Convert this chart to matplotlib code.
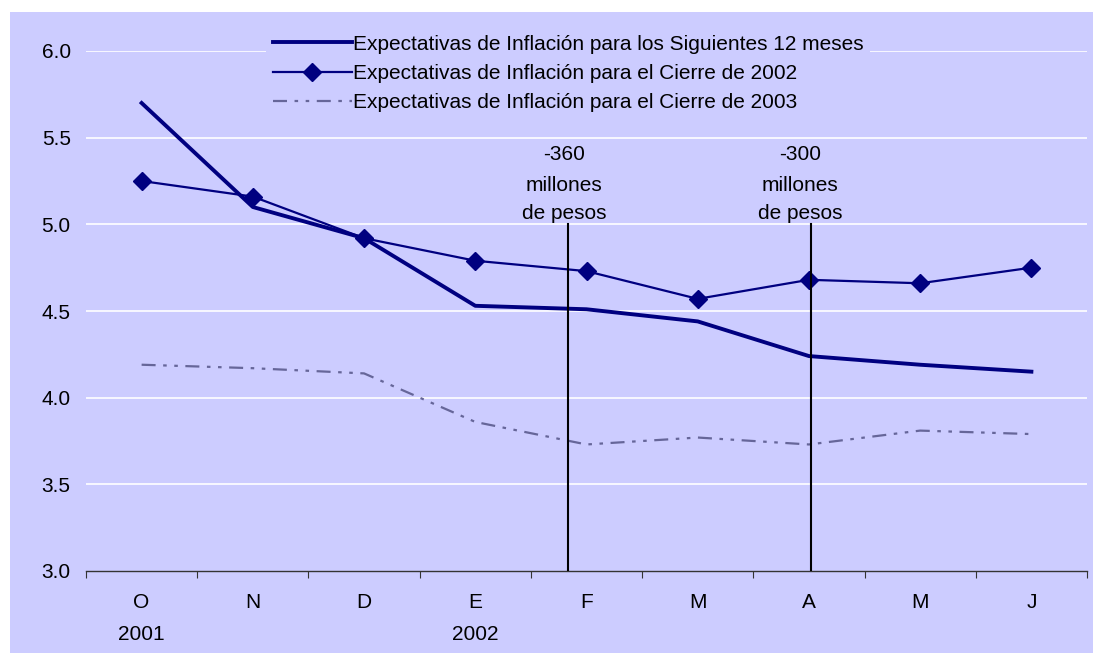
import matplotlib
matplotlib.use("Agg")
import matplotlib.pyplot as plt
from matplotlib.patches import Rectangle

months = ["O", "N", "D", "E", "F", "M", "A", "M", "J"]
years = ["2001", "", "", "2002", "", "", "", "", ""]
s12m = [5.70, 5.10, 4.92, 4.53, 4.51, 4.44, 4.24, 4.19, 4.15]
cierre2002 = [5.25, 5.16, 4.92, 4.79, 4.73, 4.57, 4.68, 4.66, 4.75]
cierre2003 = [4.19, 4.17, 4.14, 3.86, 3.73, 3.77, 3.73, 3.81, 3.79]
labels = ["Expectativas de Inflación para los Siguientes 12 meses",
          "Expectativas de Inflación para el Cierre de 2002",
          "Expectativas de Inflación para el Cierre de 2003"]
events_x = [3.83, 6.02]
events_txt = [["-360", "millones", "de pesos"], ["-300", "millones", "de pesos"]]
events_tx = [3.80, 5.92]
yticks = [3.0, 3.5, 4.0, 4.5, 5.0, 5.5, 6.0]

plt.rcParams['font.family'] = ['Liberation Sans', 'DejaVu Sans']
BG = "#CCCCFF"
NAVY = "#000080"
GREY = "#666699"
FS = 15

fig = plt.figure(figsize=(10.93, 6.53), dpi=100)
fig.patches.append(Rectangle((10/1093, 0), 1 - 10/1093, 1 - 12/653,
                             transform=fig.transFigure, facecolor=BG,
                             edgecolor="none", zorder=-10))
ax = fig.add_axes([86/1093, 1 - 571/653, (1087 - 86)/1093, (571 - 51)/653])
ax.set_facecolor(BG)

x = list(range(len(months)))
ax.set_xlim(-0.5, len(months) - 0.5)
ax.set_ylim(3.0, 6.0)

for yv in yticks[1:]:
    ax.axhline(yv, color="white", lw=1.2, zorder=1)

l1, = ax.plot(x, s12m, color=NAVY, lw=2.8, zorder=4, solid_joinstyle="round")
l2, = ax.plot(x, cierre2002, color=NAVY, lw=1.6, marker="D", ms=9, zorder=4)
l3, = ax.plot(x, cierre2003, color=GREY, lw=1.6, zorder=3,
              dashes=[6.3, 3.4, 1.6, 3.4, 1.6, 3.4])

for ex in events_x:
    ax.plot([ex, ex], [3.0, 5.0], color="black", lw=1.5, zorder=5)

ys = [5.40, 5.225, 5.065]
for tx, lines in zip(events_tx, events_txt):
    for yy, t in zip(ys, lines):
        ax.text(tx, yy, t, ha="center", va="center", fontsize=FS, color="black")

for sp in ["left", "top", "right"]:
    ax.spines[sp].set_visible(False)
ax.spines["bottom"].set_color("#333333")
ax.spines["bottom"].set_linewidth(1.0)

ax.set_yticks(yticks)
ax.set_yticklabels([f"{v:.1f}" for v in yticks], fontsize=FS)
ax.tick_params(axis="y", length=0, pad=11)

ax.set_xticks([i - 0.5 for i in range(len(months) + 1)])
ax.set_xticklabels([])
ax.tick_params(axis="x", which="major", length=5, color="#333333", direction="out")
ax.set_xticks(x, minor=True)
ax.set_xticklabels([m + ("\n" + y if y else "") for m, y in zip(months, years)],
                   minor=True, fontsize=FS, linespacing=1.85, va="top")
ax.tick_params(axis="x", which="minor", length=0, pad=16)

leg = ax.legend([l1, l2, l3], labels, loc="upper left",
                bbox_to_anchor=(256/1093, 1 - 18/653), bbox_transform=fig.transFigure,
                frameon=True, facecolor=BG, edgecolor="none", framealpha=1,
                fontsize=FS, handlelength=3.8, handletextpad=0.05,
                labelspacing=0.5, borderpad=0.3)
leg.set_zorder(6)

fig.savefig("out.png", dpi=100, facecolor="white")
